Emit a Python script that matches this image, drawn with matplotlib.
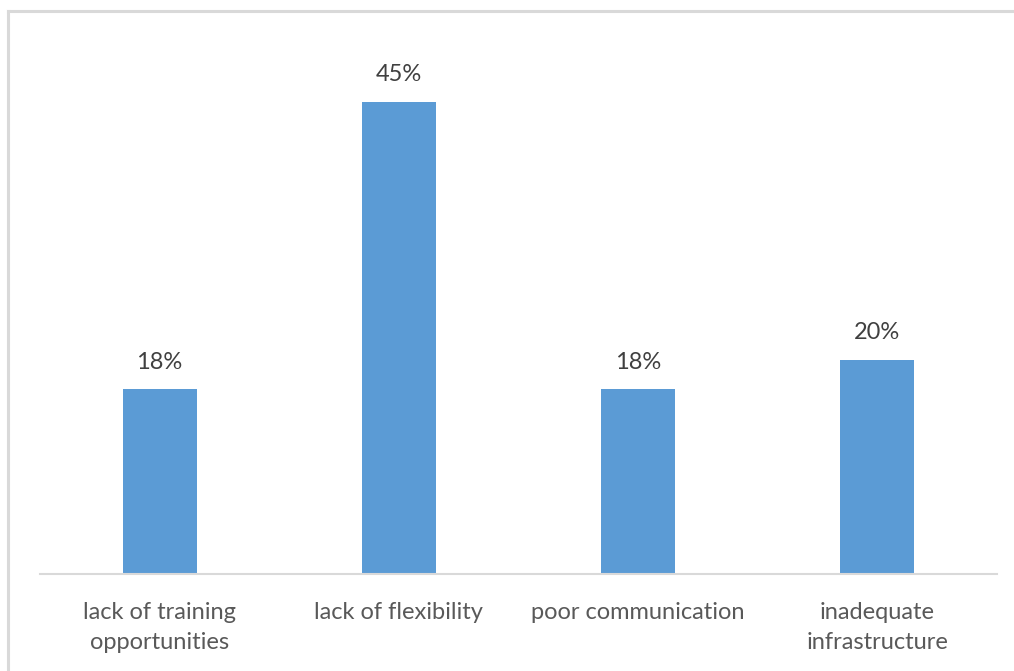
import matplotlib.pyplot as plt
from matplotlib.lines import Line2D

categories = ['lack of training\nopportunities', 'lack of flexibility',
              'poor communication', 'inadequate\ninfrastructure']
values = [17.6, 45.0, 17.6, 20.4]
labels = ['18%', '45%', '18%', '20%']

plt.rcParams['font.family'] = ['Lato', 'DejaVu Sans']

W, H = 1014, 671
fig = plt.figure(figsize=(W / 100, H / 100), dpi=100)

# outer frame: only the left and top edges show in the reference
frame = dict(transform=fig.transFigure, color='#d9d9d9', linewidth=2.2)
fig.lines.append(Line2D([8 / W, 8 / W], [0, 1 - 11 / H], **frame))
fig.lines.append(Line2D([8 / W, 1], [1 - 11 / H, 1 - 11 / H], **frame))

ax = fig.add_axes([40 / W, 1 - 574 / H, 957 / W, (574 - 30) / H])
x = range(len(categories))
bars = ax.bar(x, values, width=0.31, color='#5b9bd5')
for b, lab in zip(bars, labels):
    ax.text(b.get_x() + b.get_width() / 2, b.get_height() + 1.6, lab,
            ha='center', va='bottom', fontsize=17, color='#404040')

ax.set_xlim(-0.5, 3.5)
ax.set_ylim(0, 544 / (472 / 45))
ax.set_xticks(list(x))
ax.set_xticklabels(categories, fontsize=17, color='#595959', linespacing=1.55)
ax.tick_params(axis='x', length=0, pad=20)
ax.set_yticks([])
for s in ['top', 'right', 'left']:
    ax.spines[s].set_visible(False)
ax.spines['bottom'].set_color('#d9d9d9')
ax.spines['bottom'].set_linewidth(1.5)

fig.savefig('out.png', dpi=100)
